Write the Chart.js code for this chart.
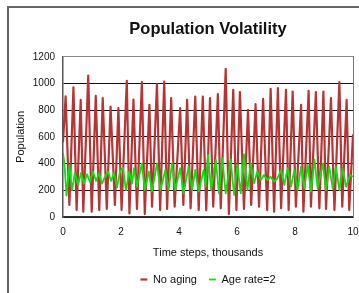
<!DOCTYPE html>
<html>
<head>
<meta charset="utf-8">
<script src="https://cdn.jsdelivr.net/npm/chart.js@4"></script>
<style>
  html, body { margin: 0; padding: 0; background: #fff; width: 359px; height: 293px; overflow: hidden; }
  #frame { position: absolute; left: 7px; top: 6px; width: 420px; height: 300px; border-left: 2px solid #666; border-top: 2px solid #666; }
  #wrap { position: absolute; left: 9px; top: 8px; width: 398px; height: 287px; }
</style>
</head>
<body>
<div id="frame"></div>
<div id="wrap"><canvas id="chart"></canvas></div>
<script>
// time steps (thousands) and population
const redX = [0.00, 0.09, 0.22, 0.36, 0.47, 0.61, 0.70, 0.87, 0.99, 1.13,
              1.25, 1.37, 1.51, 1.64, 1.79, 1.91, 2.02, 2.20, 2.29, 2.43,
              2.55, 2.72, 2.82, 2.98, 3.07, 3.24, 3.35, 3.49, 3.59, 3.73,
              3.85, 4.04, 4.15, 4.28, 4.40, 4.56, 4.68, 4.82, 4.94, 5.07,
              5.18, 5.34, 5.44, 5.61, 5.72, 5.87, 5.98, 6.10, 6.24, 6.38,
              6.49, 6.64, 6.76, 6.90, 7.04, 7.16, 7.28, 7.41, 7.52, 7.69,
              7.78, 7.92, 8.03, 8.21, 8.29, 8.47, 8.55, 8.72, 8.84, 8.98,
              9.07, 9.24, 9.36, 9.53, 9.63, 9.78, 9.87, 10.00];
const noAging = [560, 903, 90, 972, 52, 877, 40, 1060, 40, 907,
                 52, 890, 60, 827, 90, 815, 52, 1020, 27, 880,
                 60, 1010, 22, 840, 77, 995, 52, 1015, 60, 890,
                 77, 815, 90, 877, 65, 902, 52, 902, 50, 890,
                 77, 920, 65, 1110, 22, 952, 52, 935, 60, 802,
                 90, 845, 77, 885, 52, 960, 40, 965, 65, 952,
                 52, 940, 77, 840, 40, 945, 77, 935, 65, 940,
                 60, 890, 52, 1010, 77, 877, 52, 620];

const greenX = [0.00, 0.05, 0.12, 0.22, 0.31, 0.41, 0.52, 0.62, 0.72, 0.83,
                0.93, 1.03, 1.14, 1.24, 1.34, 1.45, 1.55, 1.66, 1.76, 1.86,
                1.97, 2.07, 2.17, 2.28, 2.38, 2.45, 2.55, 2.72, 2.82, 2.96,
                3.07, 3.24, 3.36, 3.53, 3.64, 3.76, 3.87, 4.04, 4.16, 4.33,
                4.45, 4.56, 4.68, 4.85, 4.92, 5.00, 5.11, 5.27, 5.38, 5.49,
                5.61, 5.78, 5.90, 6.01, 6.13, 6.24, 6.36, 6.47, 6.59, 6.70,
                6.82, 6.93, 7.04, 7.16, 7.28, 7.39, 7.52, 7.63, 7.75, 7.86,
                7.98, 8.09, 8.21, 8.32, 8.44, 8.55, 8.67, 8.78, 8.96, 9.07,
                9.18, 9.30, 9.41, 9.53, 9.64, 9.76, 9.90, 10.00];
const ageRate2 = [480, 400, 160, 390, 200, 330, 240, 330, 250, 320,
                  260, 340, 270, 330, 250, 300, 340, 270, 330, 220,
                  345, 370, 200, 340, 250, 365, 227, 402, 202, 340,
                  190, 402, 202, 352, 202, 402, 202, 365, 177, 377,
                  202, 352, 190, 352, 227, 465, 202, 427, 177, 440,
                  177, 427, 165, 390, 177, 470, 202, 402, 252, 340,
                  277, 315, 277, 302, 265, 290, 352, 240, 365, 227,
                  352, 202, 377, 215, 390, 190, 430, 215, 402, 202,
                  377, 215, 377, 202, 365, 227, 315, 302];

const xTicksStep = 2, yTicksStep = 200;

const pts = (xs, ys) => xs.map((x, i) => ({ x, y: ys[i] }));

Chart.defaults.font.family = '"Liberation Sans", Arial, sans-serif';
Chart.defaults.color = "#111";

new Chart(document.getElementById("chart"), {
  type: "line",
  data: {
    datasets: [
      { label: "No aging", data: pts(redX, noAging), borderColor: "#b83434", backgroundColor: "#b83434",
        borderWidth: 2.2, pointRadius: 0, tension: 0, borderJoinStyle: "round", order: 2 },
      { label: "Age rate=2", data: pts(greenX, ageRate2), borderColor: "#12dc12", backgroundColor: "#12dc12",
        borderWidth: 1.8, pointRadius: 0, tension: 0, borderJoinStyle: "round", order: 1 },
    ],
  },
  options: {
    responsive: true, maintainAspectRatio: false, animation: false,
    layout: { padding: 0 },
    plugins: {
      title: { display: true, text: "Population Volatility", color: "#111",
               font: { size: 16.5, weight: "bold" }, padding: { top: 12, bottom: 17 } },
      legend: { position: "bottom",
                labels: { usePointStyle: true, pointStyle: "line", pointStyleWidth: 7, padding: 12,
                          font: { size: 11 }, color: "#111",
                          sort: (a, b) => a.datasetIndex - b.datasetIndex } },
      tooltip: { enabled: false },
    },
    scales: {
      x: {
        type: "linear", min: 0, max: 10,
        ticks: { stepSize: xTicksStep, padding: 9.5, font: { size: 10 }, maxRotation: 0 },
        grid: { display: false, drawTicks: false },
        border: { display: true, color: "#333", width: 1.5 },
        title: { display: true, text: "Time steps, thousands", font: { size: 11 }, padding: { top: 0, bottom: 2.4 } },
        afterFit(s) { s.height = 45; },
      },
      y: {
        min: 0, max: 1200,
        ticks: { stepSize: yTicksStep, padding: 8, font: { size: 10 }, callback: (v) => String(v) },
        grid: { color: (c) => (c.tick && c.tick.value === 1200 ? "#888" : "#111"), lineWidth: 1, drawTicks: false },
        border: { color: "#555", width: 1.5 },
        title: { display: true, text: "Population", font: { size: 11 }, padding: { top: 5.4, bottom: 0 } },
        afterFit(s) { s.width = 54; },
      },
      // blank right axis: only closes the plot frame and keeps the cropped right margin
      yR: {
        position: "right", min: 0, max: 1200,
        ticks: { display: false },
        grid: { display: false, drawTicks: false },
        border: { display: true, color: "#777", width: 1 },
        afterFit(s) { s.width = 54; },
      },
    },
  },
});
</script>
</body>
</html>
